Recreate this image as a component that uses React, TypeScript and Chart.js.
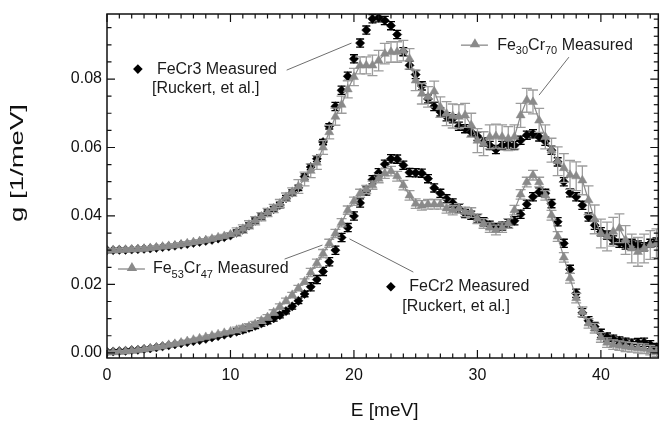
import React, { useEffect, useRef } from "react";
import { Chart, registerables } from "chart.js";

Chart.register(...registerables);

// Energy grid of the measurements (meV)
const energy = [
  0, 0.5, 1, 1.5, 2, 2.5, 3, 3.5, 4, 4.5,
  5, 5.5, 6, 6.5, 7, 7.5, 8, 8.5, 9, 9.5,
  10, 10.5, 11, 11.5, 12, 12.5, 13, 13.5, 14, 14.5,
  15, 15.5, 16, 16.5, 17, 17.5, 18, 18.5, 19, 19.5,
  20, 20.5, 21, 21.5, 22, 22.5, 23, 23.5, 24, 24.5,
  25, 25.5, 26, 26.5, 27, 27.5, 28, 28.5, 29, 29.5,
  30, 30.5, 31, 31.5, 32, 32.5, 33, 33.5, 34, 34.5,
  35, 35.5, 36, 36.5, 37, 37.5, 38, 38.5, 39, 39.5,
  40, 40.5, 41, 41.5, 42, 42.5, 43, 43.5, 44, 44.5,
];

// FeCr3 [Ruckert, et al.] (shifted up by 0.03)
const feCr3 = [
  0.0300, 0.0300, 0.0301, 0.0301, 0.0302, 0.0303, 0.0304, 0.0305, 0.0307, 0.0309,
  0.0311, 0.0313, 0.0316, 0.0318, 0.0321, 0.0324, 0.0327, 0.0330, 0.0334, 0.0338,
  0.0343, 0.0351, 0.0360, 0.0372, 0.0386, 0.0398, 0.0410, 0.0420, 0.0432, 0.0452,
  0.0468, 0.0482, 0.0515, 0.0543, 0.0567, 0.0616, 0.0662, 0.0720, 0.0767, 0.0808,
  0.0859, 0.0905, 0.0943, 0.0976, 0.0979, 0.0971, 0.0956, 0.0930, 0.0880, 0.0840,
  0.0813, 0.0780, 0.0742, 0.0720, 0.0704, 0.0690, 0.0684, 0.0662, 0.0655, 0.0645,
  0.0633, 0.0616, 0.0606, 0.0594, 0.0606, 0.0609, 0.0606, 0.0621, 0.0636, 0.0640,
  0.0631, 0.0618, 0.0592, 0.0558, 0.0500, 0.0468, 0.0456, 0.0431, 0.0397, 0.0373,
  0.0354, 0.0344, 0.0330, 0.0320, 0.0315, 0.0320, 0.0315, 0.0310, 0.0320, 0.0324,
];

// Fe30Cr70 measured (shifted up by 0.03)
const fe30Cr70 = [
  0.0298, 0.0299, 0.0300, 0.0301, 0.0302, 0.0303, 0.0304, 0.0306, 0.0308, 0.0310,
  0.0312, 0.0314, 0.0317, 0.0320, 0.0323, 0.0326, 0.0329, 0.0333, 0.0337, 0.0341,
  0.0346, 0.0353, 0.0362, 0.0374, 0.0386, 0.0398, 0.0410, 0.0422, 0.0436, 0.0455,
  0.0470, 0.0486, 0.0508, 0.0532, 0.0556, 0.0600, 0.0645, 0.0690, 0.0725, 0.0770,
  0.0806, 0.0840, 0.0840, 0.0840, 0.0854, 0.0874, 0.0879, 0.0879, 0.0883, 0.0859,
  0.0796, 0.0757, 0.0748, 0.0764, 0.0718, 0.0699, 0.0692, 0.0690, 0.0694, 0.0665,
  0.0620, 0.0611, 0.0631, 0.0633, 0.0631, 0.0626, 0.0631, 0.0694, 0.0738, 0.0733,
  0.0679, 0.0631, 0.0592, 0.0560, 0.0540, 0.0520, 0.0516, 0.0504, 0.0446, 0.0390,
  0.0349, 0.0340, 0.0354, 0.0364, 0.0330, 0.0305, 0.0295, 0.0305, 0.0315, 0.0320,
];

// Fe53Cr47 measured
const fe53Cr47 = [
  0.0001, 0.0002, 0.0003, 0.0004, 0.0006, 0.0008, 0.0010, 0.0013, 0.0016, 0.0019,
  0.0023, 0.0026, 0.0030, 0.0034, 0.0038, 0.0042, 0.0046, 0.0050, 0.0054, 0.0058,
  0.0062, 0.0067, 0.0072, 0.0077, 0.0084, 0.0094, 0.0104, 0.0118, 0.0135, 0.0152,
  0.0169, 0.0189, 0.0208, 0.0235, 0.0262, 0.0290, 0.0320, 0.0349, 0.0380, 0.0417,
  0.0443, 0.0466, 0.0477, 0.0490, 0.0509, 0.0524, 0.0531, 0.0516, 0.0490, 0.0460,
  0.0436, 0.0431, 0.0434, 0.0434, 0.0434, 0.0422, 0.0417, 0.0422, 0.0412, 0.0410,
  0.0392, 0.0378, 0.0366, 0.0359, 0.0366, 0.0378, 0.0417, 0.0463, 0.0499, 0.0519,
  0.0499, 0.0460, 0.0402, 0.0340, 0.0279, 0.0218, 0.0160, 0.0120, 0.0086, 0.0072,
  0.0045, 0.0030, 0.0024, 0.0021, 0.0018, 0.0016, 0.0014, 0.0012, 0.0008, 0.0003,
];

// FeCr2 [Ruckert, et al.]
const feCr2 = [
  0.0003, 0.0004, 0.0005, 0.0006, 0.0008, 0.0009, 0.0011, 0.0013, 0.0016, 0.0019,
  0.0022, 0.0025, 0.0028, 0.0031, 0.0034, 0.0037, 0.0041, 0.0045, 0.0049, 0.0053,
  0.0057, 0.0062, 0.0067, 0.0073, 0.0079, 0.0086, 0.0093, 0.0101, 0.0110, 0.0122,
  0.0136, 0.0152, 0.0172, 0.0193, 0.0214, 0.0238, 0.0266, 0.0300, 0.0337, 0.0366,
  0.0400, 0.0438, 0.0473, 0.0506, 0.0526, 0.0551, 0.0567, 0.0566, 0.0548, 0.0527,
  0.0526, 0.0525, 0.0509, 0.0482, 0.0466, 0.0450, 0.0438, 0.0422, 0.0407, 0.0402,
  0.0392, 0.0383, 0.0373, 0.0366, 0.0370, 0.0378, 0.0386, 0.0405, 0.0434, 0.0456,
  0.0470, 0.0466, 0.0436, 0.0383, 0.0320, 0.0244, 0.0174, 0.0117, 0.0094, 0.0077,
  0.0057, 0.0046, 0.0040, 0.0035, 0.0031, 0.0028, 0.0030, 0.0031, 0.0024, 0.0016,
];

// Error-bar half widths per energy band: [band upper edge (meV), half width]
const feCr3Err = [[10, 0.0004], [18, 0.0008], [46, 0.0012]];
const fe30Cr70Err = [[10, 0.0005], [15, 0.0012], [18, 0.002], [21, 0.0025], [27, 0.003], [36, 0.0035], [46, 0.0042]];
const fe53Cr47Err = [[10, 0.0003], [16, 0.0008], [22, 0.0012], [46, 0.0014]];
const feCr2Err = [[10, 0.0003], [16, 0.0008], [46, 0.0012]];

const xTickValues = [0, 10, 20, 30, 40];
const yTickValues = [0, 0.02, 0.04, 0.06, 0.08];

const X_MIN = 0;
const X_MAX = 44.65;
const Y_MIN = -0.0015;
const Y_MAX = 0.099;

const GRAY = "#8a8a8a";
const GRAY_ERR = "#9c9c9c";
const INK = "#111";
const FONT = "'Liberation Sans', Arial, Helvetica, sans-serif";

type Piece = { t: string; sub?: boolean };
type Note = {
  marker: "diamond" | "triangleLine";
  mx: number;
  my: number;
  lines: { x: number; y: number; pieces: Piece[] }[];
  leader: [number, number, number, number];
};

// Callout labels, positioned in data coordinates
const notes: Note[] = [
  {
    marker: "diamond",
    mx: 2.5,
    my: 0.0829,
    lines: [
      { x: 4.04, y: 0.0829, pieces: [{ t: "FeCr3 Measured" }] },
      { x: 3.64, y: 0.0773, pieces: [{ t: "[Ruckert, et al.]" }] },
    ],
    leader: [14.55, 0.0826, 19.8, 0.0905],
  },
  {
    marker: "triangleLine",
    mx: 29.8,
    my: 0.0899,
    lines: [
      {
        x: 31.6,
        y: 0.0899,
        pieces: [{ t: "Fe" }, { t: "30", sub: true }, { t: "Cr" }, { t: "70", sub: true }, { t: " Measured" }],
      },
    ],
    leader: [37.41, 0.0864, 34.99, 0.0753],
  },
  {
    marker: "triangleLine",
    mx: 2.02,
    my: 0.0245,
    lines: [
      {
        x: 3.72,
        y: 0.0245,
        pieces: [{ t: "Fe" }, { t: "53", sub: true }, { t: "Cr" }, { t: "47", sub: true }, { t: " Measured" }],
      },
    ],
    leader: [14.38, 0.0274, 17.45, 0.0315],
  },
  {
    marker: "diamond",
    mx: 22.99,
    my: 0.0193,
    lines: [
      { x: 24.48, y: 0.0193, pieces: [{ t: "FeCr2 Measured" }] },
      { x: 23.92, y: 0.0134, pieces: [{ t: "[Ruckert, et al.]" }] },
    ],
    leader: [19.64, 0.0333, 24.81, 0.0236],
  },
];

function errAt(bands: number[][], e: number): number {
  for (const [edge, w] of bands) if (e <= edge) return w;
  return bands[bands.length - 1][1];
}

const errorBarPlugin = {
  id: "errorBars",
  beforeDatasetDraw(chart: any, args: any) {
    const ds = chart.data.datasets[args.index];
    if (!ds.errBands) return;
    const { ctx, chartArea, scales } = chart;
    ctx.save();
    ctx.beginPath();
    ctx.rect(chartArea.left, chartArea.top, chartArea.right - chartArea.left, chartArea.bottom - chartArea.top);
    ctx.clip();
    ctx.strokeStyle = ds.errColor;
    ctx.lineWidth = 1.3;
    const cap = ds.errCap;
    ds.data.forEach((p: any) => {
      const w = errAt(ds.errBands, p.x);
      const x = scales.x.getPixelForValue(p.x);
      const y1 = scales.y.getPixelForValue(p.y - w);
      const y2 = scales.y.getPixelForValue(p.y + w);
      ctx.beginPath();
      ctx.moveTo(x, y1);
      ctx.lineTo(x, y2);
      ctx.moveTo(x - cap, y1);
      ctx.lineTo(x + cap, y1);
      ctx.moveTo(x - cap, y2);
      ctx.lineTo(x + cap, y2);
      ctx.stroke();
    });
    ctx.restore();
  },
};

function drawDiamond(ctx: CanvasRenderingContext2D, x: number, y: number, r: number) {
  ctx.beginPath();
  ctx.moveTo(x, y - r);
  ctx.lineTo(x + r, y);
  ctx.lineTo(x, y + r);
  ctx.lineTo(x - r, y);
  ctx.closePath();
  ctx.fill();
}

function drawTriangle(ctx: CanvasRenderingContext2D, x: number, y: number, r: number) {
  ctx.beginPath();
  ctx.moveTo(x, y - r);
  ctx.lineTo(x + r * 0.866, y + r * 0.5);
  ctx.lineTo(x - r * 0.866, y + r * 0.5);
  ctx.closePath();
  ctx.fill();
}

const framePlugin = {
  id: "frameAndLabels",
  afterDraw(chart: any) {
    const { ctx, chartArea, scales } = chart;
    const { left, right, top, bottom } = chartArea;
    const xs = scales.x;
    const ys = scales.y;
    ctx.save();

    // frame
    ctx.strokeStyle = INK;
    ctx.lineWidth = 1.5;
    ctx.strokeRect(left, top, right - left, bottom - top);

    // x ticks (inward, bottom and top)
    ctx.lineWidth = 1.2;
    for (let v = 0; v <= X_MAX; v += 1) {
      const x = xs.getPixelForValue(v);
      const major = v % 10 === 0;
      const len = major ? 8 : 4.5;
      ctx.beginPath();
      ctx.moveTo(x, bottom);
      ctx.lineTo(x, bottom - len);
      ctx.moveTo(x, top);
      ctx.lineTo(x, top + len);
      ctx.stroke();
    }
    // y ticks: left every 0.005, right every 0.0025
    for (let k = 0; k * 0.0025 <= Y_MAX; k++) {
      const v = k * 0.0025;
      const y = ys.getPixelForValue(v);
      const major = k % 8 === 0;
      const len = major ? 8 : 4.5;
      ctx.beginPath();
      if (k % 2 === 0) {
        ctx.moveTo(left, y);
        ctx.lineTo(left + len, y);
      }
      ctx.moveTo(right, y);
      ctx.lineTo(right - len, y);
      ctx.stroke();
    }

    // tick labels
    ctx.fillStyle = INK;
    ctx.font = `16px ${FONT}`;
    ctx.textAlign = "center";
    ctx.textBaseline = "top";
    xTickValues.forEach((v) => ctx.fillText(String(v), xs.getPixelForValue(v), bottom + 10));
    ctx.textAlign = "right";
    ctx.textBaseline = "middle";
    yTickValues.forEach((v) => ctx.fillText(v.toFixed(2), left - 5, ys.getPixelForValue(v)));

    // axis titles
    ctx.font = `19px ${FONT}`;
    ctx.textAlign = "center";
    ctx.textBaseline = "middle";
    ctx.fillText("E [meV]", (left + right) / 2 + 2, 411);
    // the vertical title is set stretched along its length
    ctx.save();
    ctx.translate(18, 163);
    ctx.rotate(-Math.PI / 2);
    ctx.scale(1.45, 1);
    ctx.fillText("g [1/meV]", 0, 0);
    ctx.restore();

    // callouts
    notes.forEach((n) => {
      ctx.strokeStyle = "#6e6e6e";
      ctx.lineWidth = 1;
      ctx.beginPath();
      ctx.moveTo(xs.getPixelForValue(n.leader[0]), ys.getPixelForValue(n.leader[1]));
      ctx.lineTo(xs.getPixelForValue(n.leader[2]), ys.getPixelForValue(n.leader[3]));
      ctx.stroke();

      const mx = xs.getPixelForValue(n.mx);
      const my = ys.getPixelForValue(n.my);
      if (n.marker === "diamond") {
        ctx.fillStyle = "#000";
        drawDiamond(ctx, mx, my, 4.8);
      } else {
        ctx.strokeStyle = GRAY;
        ctx.lineWidth = 1.3;
        ctx.beginPath();
        ctx.moveTo(mx - 14, my);
        ctx.lineTo(mx + 13, my);
        ctx.stroke();
        ctx.fillStyle = GRAY;
        drawTriangle(ctx, mx, my - 1, 6);
      }

      ctx.fillStyle = "#1a1a1a";
      ctx.textAlign = "left";
      ctx.textBaseline = "middle";
      n.lines.forEach((ln) => {
        let x = xs.getPixelForValue(ln.x);
        const y = ys.getPixelForValue(ln.y);
        ln.pieces.forEach((p) => {
          ctx.font = p.sub ? `11px ${FONT}` : `16px ${FONT}`;
          ctx.fillText(p.t, x, p.sub ? y + 6 : y);
          x += ctx.measureText(p.t).width;
        });
      });
    });

    ctx.restore();
  },
};

function pts(values: number[]) {
  return energy.map((x, i) => ({ x, y: values[i] }));
}

export default function App() {
  const canvasRef = useRef<HTMLCanvasElement>(null);

  useEffect(() => {
    if (!canvasRef.current) return;
    const chart = new Chart(canvasRef.current, {
      type: "scatter",
      data: {
        datasets: [
          {
            label: "FeCr3 Measured [Ruckert, et al.]",
            data: pts(feCr3),
            showLine: false,
            pointStyle: "rectRot",
            pointRadius: 4.6,
            pointBackgroundColor: "#000",
            pointBorderColor: "#000",
            pointBorderWidth: 0.5,
            order: 2,
            errBands: feCr3Err,
            errColor: "#000",
            errCap: 4,
          } as any,
          {
            label: "Fe30Cr70 Measured",
            data: pts(fe30Cr70),
            showLine: true,
            borderColor: GRAY,
            borderWidth: 1.2,
            pointStyle: "triangle",
            pointRadius: 5.2,
            pointBackgroundColor: GRAY,
            pointBorderColor: GRAY,
            pointBorderWidth: 0.5,
            order: 1,
            errBands: fe30Cr70Err,
            errColor: GRAY_ERR,
            errCap: 5,
          } as any,
          {
            label: "Fe53Cr47 Measured",
            data: pts(fe53Cr47),
            showLine: true,
            borderColor: GRAY,
            borderWidth: 1.2,
            pointStyle: "triangle",
            pointRadius: 5.2,
            pointBackgroundColor: GRAY,
            pointBorderColor: GRAY,
            pointBorderWidth: 0.5,
            order: 1,
            errBands: fe53Cr47Err,
            errColor: GRAY_ERR,
            errCap: 5,
          } as any,
          {
            label: "FeCr2 Measured [Ruckert, et al.]",
            data: pts(feCr2),
            showLine: false,
            pointStyle: "rectRot",
            pointRadius: 4.6,
            pointBackgroundColor: "#000",
            pointBorderColor: "#000",
            pointBorderWidth: 0.5,
            order: 2,
            errBands: feCr2Err,
            errColor: "#000",
            errCap: 4,
          } as any,
        ],
      },
      options: {
        animation: false,
        responsive: false,
        devicePixelRatio: 1,
        events: [],
        layout: { padding: { left: 107, top: 14, right: 4, bottom: 64 } },
        plugins: { legend: { display: false }, tooltip: { enabled: false } },
        scales: {
          x: { type: "linear", display: false, min: X_MIN, max: X_MAX },
          y: { type: "linear", display: false, min: Y_MIN, max: Y_MAX },
        },
      },
      plugins: [errorBarPlugin, framePlugin],
    });
    return () => chart.destroy();
  }, []);

  return (
    <div style={{ position: "absolute", left: 0, top: 0, width: 664, height: 422, background: "#fff" }}>
      <canvas ref={canvasRef} width={664} height={422} style={{ display: "block" }} />
    </div>
  );
}
